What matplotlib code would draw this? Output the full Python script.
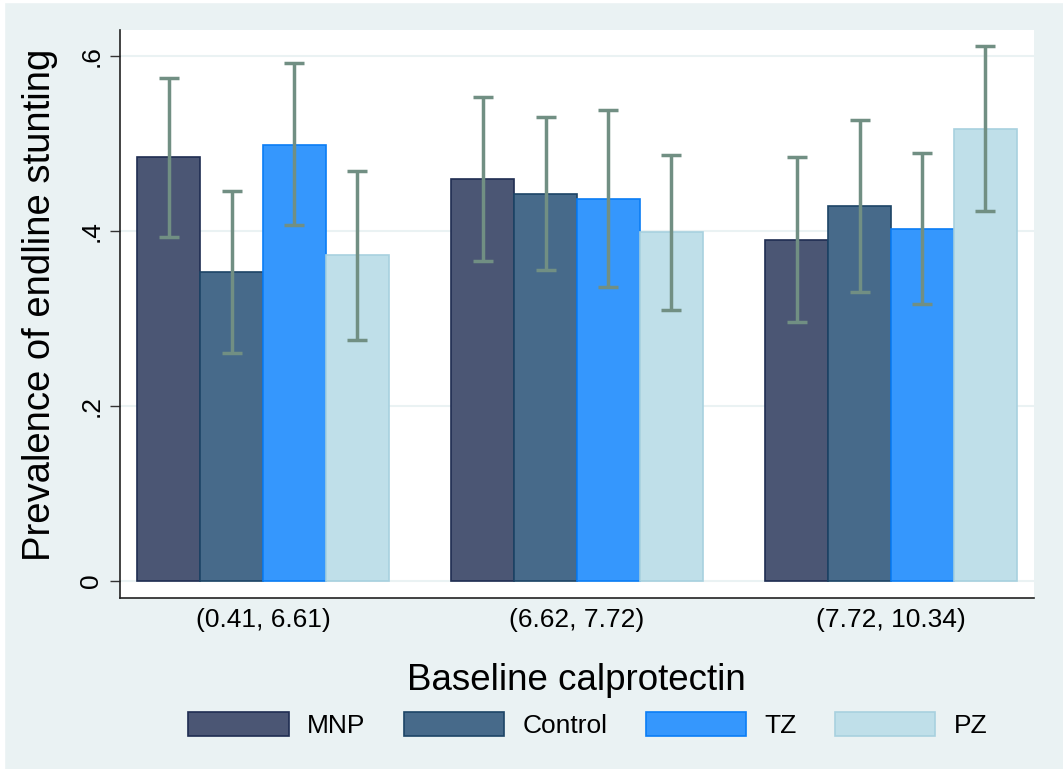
import matplotlib
matplotlib.use("Agg")
import matplotlib.pyplot as plt
import numpy as np
from matplotlib.patches import Rectangle

plt.rcParams['font.family'] = ['Liberation Sans', 'DejaVu Sans']

groups = ["(0.41, 6.61)", "(6.62, 7.72)", "(7.72, 10.34)"]
series = ["MNP", "Control", "TZ", "PZ"]
prev = {
    "MNP":     [0.485, 0.459, 0.390],
    "Control": [0.353, 0.442, 0.429],
    "TZ":      [0.498, 0.437, 0.402],
    "PZ":      [0.373, 0.399, 0.517],
}
ci_low = {
    "MNP":     [0.393, 0.366, 0.296],
    "Control": [0.261, 0.356, 0.330],
    "TZ":      [0.407, 0.336, 0.317],
    "PZ":      [0.275, 0.310, 0.423],
}
ci_high = {
    "MNP":     [0.575, 0.553, 0.485],
    "Control": [0.446, 0.530, 0.527],
    "TZ":      [0.592, 0.538, 0.489],
    "PZ":      [0.469, 0.487, 0.611],
}
yticks = [0, 0.2, 0.4, 0.6]
ytick_labels = ["0", ".2", ".4", ".6"]

fills = {"MNP": "#4b5674", "Control": "#476a8a", "TZ": "#3597fd", "PZ": "#bfdfe9"}
edges = {"MNP": "#1f2d52", "Control": "#1c4466", "TZ": "#0a7df5", "PZ": "#a8d1df"}
bg = "#eaf2f3"
err_col = "#718f83"

W, H = 1063, 769
fig = plt.figure(figsize=(W / 100, H / 100), dpi=100, facecolor=bg)
fig.patches.append(Rectangle((0, 0), 4 / W, 1, transform=fig.transFigure, color="white", zorder=0))
fig.patches.append(Rectangle((0, 1 - 2 / H), 1, 2 / H, transform=fig.transFigure, color="white", zorder=0))

ax = fig.add_axes([120 / W, (H - 598) / H, 914 / W, 568 / H])
ax.set_facecolor("white")

x = np.arange(len(groups))
bw = 0.2
offsets = [-1.5, -0.5, 0.5, 1.5]
for s, off in zip(series, offsets):
    xs = x + off * bw
    vals = np.array(prev[s])
    ax.bar(xs, vals, width=bw, color=fills[s], edgecolor=edges[s], linewidth=1.2, zorder=2, label=s)
    lo = np.array(ci_low[s])
    hi = np.array(ci_high[s])
    ax.errorbar(xs, vals, yerr=[vals - lo, hi - vals], fmt="none", ecolor=err_col,
                elinewidth=2.5, capsize=7, capthick=2.5, zorder=3)

ax.set_xlim(-0.455, 2.455)
ax.set_ylim(-0.0194, 0.6297)
ax.set_yticks(yticks)
ax.set_yticklabels(ytick_labels, rotation=90, va="center", fontsize=19)
ax.set_xticks(x)
ax.set_xticklabels(groups, fontsize=19)
ax.tick_params(axis="x", length=0, pad=7)
ax.tick_params(axis="y", length=7, width=1, pad=5, color="#333333")
ax.grid(axis="y", color=bg, linewidth=1.5, zorder=0)
ax.set_axisbelow(True)
for sp in ["top", "right"]:
    ax.spines[sp].set_visible(False)
for sp in ["left", "bottom"]:
    ax.spines[sp].set_color("#222222")
    ax.spines[sp].set_linewidth(1.2)

fig.text(40 / W, 1 - 305 / H, "Prevalence of endline stunting", fontsize=27.5,
         rotation=90, ha="center", va="center")
fig.text(576 / W, 1 - 680 / H, "Baseline calprotectin", fontsize=26.5,
         ha="center", va="center")

handles = [Rectangle((0, 0), 1, 1, facecolor=fills[s], edgecolor=edges[s], linewidth=1.2) for s in series]
leg = fig.legend(handles, series, loc="center", bbox_to_anchor=(588 / W, 1 - 725 / H),
                 ncol=4, frameon=False, fontsize=19, handlelength=3.8, handleheight=1.0,
                 handletextpad=0.7, columnspacing=1.45, borderpad=0, borderaxespad=0)

fig.savefig("out.png", dpi=100, facecolor=fig.get_facecolor())
